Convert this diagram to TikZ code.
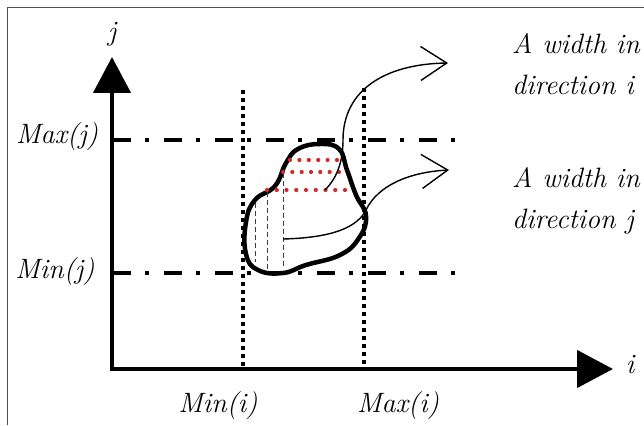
\documentclass[tikz,border=0pt]{standalone}
\usepackage{fontspec}
\usetikzlibrary{arrows.meta, positioning}

\definecolor{reddot}{HTML}{D42A2A}
\definecolor{navy}{HTML}{2E3F5C}
\definecolor{framegray}{HTML}{505050}

\begin{document}
\begin{tikzpicture}[x=1pt, y=-1pt,
    axis/.style={
        line width=4.5pt,
        line join=miter,
        {Triangle[length=36pt, width=37pt]}-{Triangle[length=36pt, width=37pt]}
    },
    bound/.style={
        line width=4.5pt,
        dash pattern=on 18pt off 14pt on 4pt off 15pt
    },
    limit/.style={
        line width=4.5pt,
        dash pattern=on 4pt off 4pt
    },
    blob/.style={
        line width=4.5pt,
        line join=round
    },
    scan/.style={
        navy,
        line width=0.9pt,
        dash pattern=on 5pt off 3pt
    },
    pointer/.style={
        line width=1.4pt,
        -{Straight Barb[length=26pt, width=34pt]}
    },
    lbl/.style={
        inner sep=0pt,
        font=\fontsize{28}{41}\selectfont\itshape
    }
]
    \useasboundingbox (0,0) rectangle (644,425);

    % -- Frame --
    \draw[framegray, line width=0.8pt] (7,425) -- (7,7) -- (644,7);

    % -- Axes --
    \coordinate (jtop) at (112,57);
    \coordinate (origin) at (112,369);
    \coordinate (itip) at (613,369);
    \draw[axis] (jtop) -- (origin) -- (itip);
    \node[lbl, anchor=base] (jlab) at (112,41) {j};
    \node[lbl, anchor=base] (ilab) at (630,373) {i};

    % Bounds in j
    \coordinate (maxjl) at (113,140);
    \coordinate (maxjr) at (457,140);
    \coordinate (minjl) at (113,273);
    \coordinate (minjr) at (457,273);
    \draw[bound] (maxjl) -- (maxjr);
    \draw[bound] (minjl) -- (minjr);
    \node[lbl, anchor=base] (maxj) at (57,143) {Max(j)};
    \node[lbl, anchor=base] (minj) at (55,278) {Min(j)};

    % Bounds in i
    \coordinate (minit) at (243,90);
    \coordinate (minib) at (243,366);
    \coordinate (maxit) at (364,88);
    \coordinate (maxib) at (364,366);
    \draw[limit] (minit) -- (minib);
    \draw[limit] (maxit) -- (maxib);
    \node[lbl, anchor=base] (mini) at (218,412) {Min(i)};
    \node[lbl, anchor=base] (maxi) at (398,412) {Max(i)};

    % -- Region --
    \draw[blob] plot[smooth cycle, tension=0.75] coordinates {
        (286,163) (298,149) (320,144) (339,149) (347,170)
        (356,195) (366,216) (359,238) (340,255) (306,265)
        (283,273) (258,270) (246,254) (246,222) (255,200)
        (275,186)};

    % Rows of the width in direction i
    \foreach \k in {0,...,5}
        \fill[reddot] (290+9.4*\k,160) circle (2.1pt);
    \foreach \k in {0,...,6}
        \fill[reddot] (283+9.33*\k,172) circle (2.1pt);
    \foreach \k in {0,...,8}
        \fill[reddot] (267+9.75*\k,190) circle (2.1pt);

    % Columns of the width in direction j
    \draw[scan] (255,203) -- (255,262);
    \draw[scan] (267,192) -- (267,272);
    \draw[scan] (283,173) -- (283,268);

    % -- Widths --
    \node[lbl, anchor=base west, align=left] (widthi) at (512,95) {A width in\\direction i};
    \node[lbl, anchor=base west, align=left] (widthj) at (512,228) {A width in\\direction j};

    \coordinate (fromi) at (325,190);
    \coordinate (tipi) at (448,63);
    \coordinate (fromj) at (283,239);
    \coordinate (tipj) at (449,170);
    \draw[pointer] (fromi) .. controls (335,180) and (343,165) .. (343,140)
        .. controls (343,90) and (385,64) .. (tipi);
    \draw[pointer] (fromj) .. controls (320,238) and (355,232) .. (366,210)
        .. controls (378,185) and (410,172) .. (tipj);

\end{tikzpicture}
\end{document}
